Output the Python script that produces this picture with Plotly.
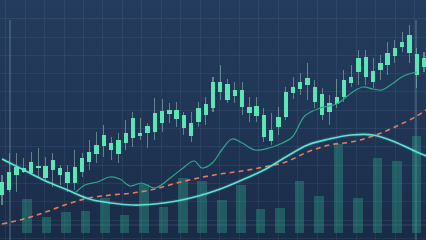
import base64
import plotly.graph_objects as go

# ---------------- data ----------------
candle_idx = list(range(59))
body_low = [45, 50, 65, 68, 67, 72, 62, 70, 65, 57, 57, 68, 78, 86, 94, 90, 86, 97, 102, 104,
            107, 108, 117, 126, 121, 112, 104, 118, 125, 132, 148, 140, 144, 133, 127, 124, 103, 99, 113, 123,
            147, 151, 155, 138, 125, 128, 136, 143, 157, 168, 163, 158, 170, 175, 184, 193, 187, 165, 173]
body_high = [58, 68, 73, 72, 78, 74, 74, 80, 72, 68, 73, 82, 88, 95, 105, 97, 100, 107, 122, 107,
             114, 127, 129, 130, 130, 125, 117, 132, 136, 158, 158, 156, 150, 150, 133, 134, 125, 110, 123, 148,
             153, 158, 162, 153, 146, 137, 143, 160, 163, 182, 183, 169, 177, 187, 192, 198, 205, 186, 182]
high = [65, 87, 87, 82, 88, 92, 83, 87, 75, 75, 90, 87, 100, 108, 115, 103, 107, 120, 128, 122,
        117, 142, 141, 137, 138, 128, 128, 138, 143, 163, 175, 161, 158, 158, 143, 143, 132, 127, 133, 153,
        163, 167, 177, 160, 152, 145, 161, 170, 175, 190, 190, 182, 185, 198, 200, 208, 215, 192, 188]
low = [35, 48, 48, 67, 65, 63, 58, 53, 55, 48, 50, 63, 70, 77, 83, 80, 77, 90, 93, 100,
       92, 100, 108, 117, 113, 105, 98, 113, 115, 128, 140, 137, 137, 125, 118, 118, 98, 95, 105, 120,
       141, 145, 140, 132, 120, 115, 132, 138, 153, 155, 155, 152, 160, 165, 177, 188, 177, 152, 168]

vol_idx = list(range(21))
volume = [34, 16, 21, 22, 35, 18, 49, 26, 55, 52, 33, 48, 24, 25, 52, 37, 89, 35, 75, 72, 97]

trend_x = [0, 3, 6, 9, 12, 15, 18, 21, 24, 27, 30, 33, 36, 39, 42, 45, 48, 51, 54, 57, 59]
trend_y = [81, 70, 59, 50, 41, 37, 35, 36, 39, 44, 51, 60, 70, 83, 95, 101, 105, 105, 98, 88, 82]

avg_x = [0, 3, 6, 9, 12, 15, 18, 21, 24, 27, 30, 33, 36, 39, 42, 45, 48, 51, 54, 57, 59]
avg_y = [16, 21, 28, 36, 42, 45, 47, 51, 57, 62, 66, 69, 73, 78, 88, 95, 98, 104, 113, 124, 134]

ma_x = [10.2, 11.4, 13.1, 14.8, 16.2, 17.6, 19.2, 21.0, 23.3, 24.7, 26.4, 27.5, 28.9, 30.2, 31.6,
        33.0, 34.8, 36.7, 37.9, 39.9, 41.6, 43.7, 46.0, 48.2, 49.6, 51.0, 52.2, 53.6, 55.2, 57.0]
ma_y = [48, 55, 58, 63, 61, 54, 57, 52, 63, 71, 79, 72, 77, 90, 101, 97, 90, 92, 95, 103,
        124, 132, 136, 148, 153, 151, 150, 156, 164, 168]

cursor_x = [1.1, 56.9]
cursor_top = 220
base_line_y = 15

# ---------------- styles ----------------
BODY = "#5ce6b8"
WICK = "rgba(150,195,190,0.55)"
VOL = "rgba(45,165,140,0.38)"
CYAN = "#5fe2d0"
ORANGE = "#e67d5e"
MA = "#2ea88c"
GRID = "rgba(140,170,210,0.10)"

fig = go.Figure()

# volume on base axes (drawn underneath)
fig.add_trace(go.Bar(x=vol_idx, y=volume, width=0.49, marker=dict(color=VOL, line=dict(width=0)),
                     xaxis="x", yaxis="y", hoverinfo="skip"))

# candles on overlay axes
fig.add_trace(go.Bar(x=candle_idx, y=[h - l for h, l in zip(high, low)], base=low, width=0.14,
                     marker=dict(color=WICK, line=dict(width=0)), xaxis="x2", yaxis="y2", hoverinfo="skip"))
fig.add_trace(go.Bar(x=candle_idx, y=[h - l for h, l in zip(body_high, body_low)], base=body_low, width=0.6,
                     marker=dict(color=BODY, line=dict(width=0)), xaxis="x2", yaxis="y2", hoverinfo="skip"))

fig.add_trace(go.Scatter(x=avg_x, y=avg_y, mode="lines", line=dict(color=ORANGE, width=1.6, dash="5px,4px", shape="spline"),
                         xaxis="x2", yaxis="y2", hoverinfo="skip"))
fig.add_trace(go.Scatter(x=ma_x, y=ma_y, mode="lines", line=dict(color=MA, width=1.2, shape="spline", smoothing=1),
                         xaxis="x2", yaxis="y2", hoverinfo="skip"))
fig.add_trace(go.Scatter(x=trend_x, y=trend_y, mode="lines", line=dict(color="rgba(95,226,208,0.12)", width=4, shape="spline"),
                         xaxis="x2", yaxis="y2", hoverinfo="skip"))
fig.add_trace(go.Scatter(x=trend_x, y=trend_y, mode="lines", line=dict(color=CYAN, width=1.7, shape="spline"),
                         xaxis="x2", yaxis="y2", hoverinfo="skip"))

shapes = []
for cx in cursor_x:
    shapes.append(dict(type="line", xref="x2", yref="y2", x0=cx, x1=cx, y0=cursor_top, y1=-5,
                       line=dict(color="rgba(150,200,215,0.45)", width=1), layer="below"))
shapes.append(dict(type="line", xref="paper", yref="y2", x0=0, x1=1, y0=base_line_y, y1=base_line_y,
                   line=dict(color="rgba(190,210,235,0.16)", width=1), layer="below"))

svg = ('<svg xmlns="http://www.w3.org/2000/svg" width="426" height="240"><defs>'
       '<linearGradient id="g" x1="0" y1="0" x2="0" y2="1">'
       '<stop offset="0" stop-color="#243c5d"/><stop offset="0.6" stop-color="#1f3453"/>'
       '<stop offset="1" stop-color="#192a45"/></linearGradient></defs>'
       '<rect width="426" height="240" fill="url(#g)"/></svg>')
src = "data:image/svg+xml;base64," + base64.b64encode(svg.encode()).decode()

fig.update_layout(
    width=426, height=240, margin=dict(l=0, r=0, t=0, b=0),
    paper_bgcolor="#1e3352", plot_bgcolor="rgba(0,0,0,0)",
    showlegend=False, barmode="overlay", bargap=0,
    images=[dict(source=src, xref="paper", yref="paper", x=0, y=1, sizex=1, sizey=1,
                 sizing="stretch", layer="below")],
    shapes=shapes,
    xaxis=dict(range=[-1.387, 20.49], showgrid=True, gridcolor=GRID, gridwidth=1, tick0=-0.1, dtick=1,
               showticklabels=False, ticks="", zeroline=False, showline=False, fixedrange=True),
    yaxis=dict(range=[-7, 233], showgrid=True, gridcolor=GRID, gridwidth=1, tick0=196, dtick=18.3,
               showticklabels=False, ticks="", zeroline=False, showline=False, fixedrange=True),
    xaxis2=dict(range=[-0.275, 58.275], overlaying="x", visible=False, fixedrange=True),
    yaxis2=dict(range=[0, 240], overlaying="y", visible=False, fixedrange=True),
)

fig.write_html("out.html", config={"displayModeBar": False})
